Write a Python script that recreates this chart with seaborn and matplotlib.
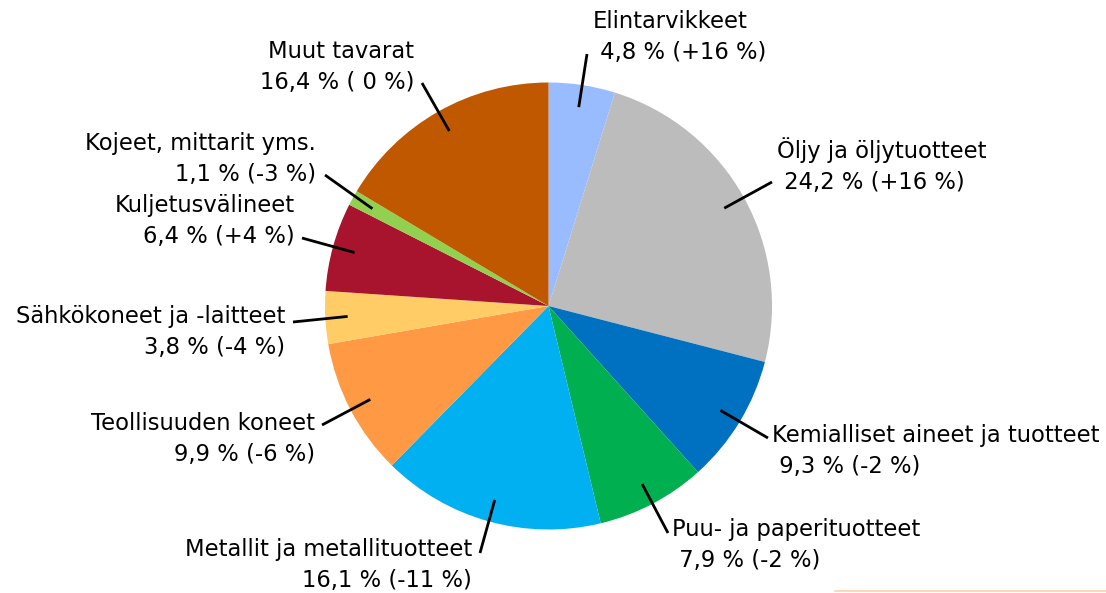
import numpy as np
import seaborn as sns
import matplotlib.pyplot as plt
from matplotlib.lines import Line2D

# Share of imports by product group, with yearly change
categories = ["Elintarvikkeet", "Öljy ja öljytuotteet", "Kemialliset aineet ja tuotteet",
              "Puu- ja paperituotteet", "Metallit ja metallituotteet", "Teollisuuden koneet",
              "Sähkökoneet ja -laitteet", "Kuljetusvälineet", "Kojeet, mittarit yms.",
              "Muut tavarat"]
shares = [4.8, 24.2, 9.3, 7.9, 16.1, 9.9, 3.8, 6.4, 1.1, 16.4]
changes = ["+16 %", "+16 %", "-2 %", "-2 %", "-11 %", "-6 %", "-4 %", "+4 %", "-3 %", " 0 %"]
colors = ["#99BBFF", "#BBBCBB", "#0070C0", "#00B050", "#00B0F0",
          "#FF9944", "#FFCC66", "#A8132D", "#92D050", "#C05800"]

sns.set_theme(style="white")
plt.rcParams['font.family'] = ['DejaVu Sans']

W, H = 1106, 593
fig = plt.figure(figsize=(W / 100, H / 100), dpi=100)
cx, cy, R = 548.5, 306, 223.5
ax = fig.add_axes([(cx - R) / W, (H - cy - R) / H, 2 * R / W, 2 * R / H])

wedges, _ = ax.pie(shares, colors=colors, startangle=90, counterclock=False,
                   wedgeprops=dict(linewidth=0))
ax.set_xlim(-1, 1)
ax.set_ylim(-1, 1)
ax.axis('off')


def px(x, y):
    # pixel position -> pie data units
    return (x - cx) / R, (cy - y) / R


# label layout: (anchor x, block centre y, side), leader end point
label_pos = [(593, 37, 'left'), (777, 166, 'left'), (772, 451, 'left'), (672, 545, 'left'),
             (472, 565, 'right'), (315, 439, 'right'), (285, 332, 'right'),
             (295, 221, 'right'), (316, 159, 'right'), (414, 67, 'right')]
leader_end = [(587, 54), (772, 182), (768, 438), (668, 533), (480, 553),
              (322, 425), (293, 322), (302, 238), (325, 175), (422, 83)]

for w, cat, s, chg, (lx, ly, side), (ex, ey) in zip(wedges, categories, shares, changes,
                                                     label_pos, leader_end):
    mid = np.deg2rad((w.theta1 + w.theta2) / 2)
    sx, sy = 0.9 * np.cos(mid), 0.9 * np.sin(mid)
    tx, ty = px(ex, ey)
    ax.plot([sx, tx], [sy, ty], color='black', lw=2, solid_capstyle='butt', clip_on=False)

    lead = " " if side == 'left' else ""
    value = f"{s:.1f}".replace('.', ',')
    text = f"{cat}\n{lead}{value} % ({chg})"
    x, y = px(lx, ly)
    ax.text(x, y, text, ha=side, va='center', fontsize=16.3, linespacing=1.45,
            color='black', clip_on=False)

fig.add_artist(Line2D([835 / W, 1], [2 / H, 2 / H], color='#FBD9BC', lw=1.5))

plt.savefig("out.png", dpi=100)
